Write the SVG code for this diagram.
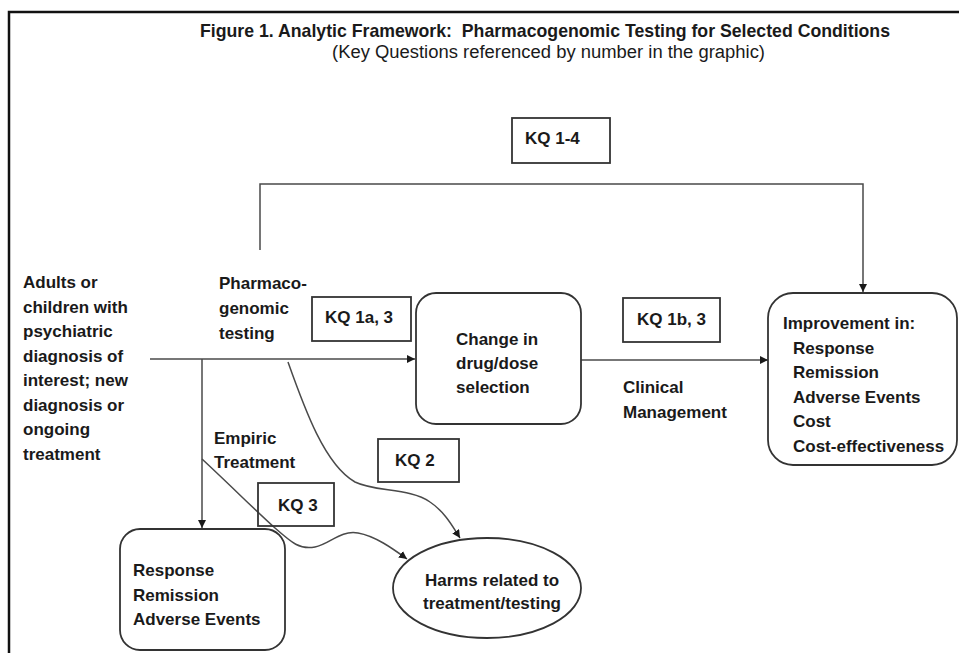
<svg xmlns="http://www.w3.org/2000/svg" width="959" height="653" viewBox="0 0 959 653">
<defs>
<style>
text{font-family:"Liberation Sans",Arial,sans-serif;font-size:17px;font-weight:bold;fill:#1a1a1a;white-space:pre}
.title{font-size:18.5px}
.sub{font-weight:normal;font-size:18px}
.box{fill:#fff;stroke:#333;stroke-width:1.8}
.kq{fill:none;stroke:#333;stroke-width:1.8}
.conn{fill:none;stroke:#4a4a4a;stroke-width:1.5}
</style>
<marker id="arr" viewBox="0 0 10 10" refX="10" refY="5" markerWidth="8" markerHeight="8" markerUnits="userSpaceOnUse" orient="auto">
<path d="M0,0 L10,5 L0,10 z" fill="#1a1a1a"/>
</marker>
</defs>
<rect width="959" height="653" fill="#fff"/>
<rect x="9" y="12" width="1000" height="700" fill="none" stroke="#111" stroke-width="2.5"/>
<g id="title">
<text class="title" x="545" y="37" text-anchor="middle" textLength="690" lengthAdjust="spacingAndGlyphs">Figure 1. Analytic Framework:  Pharmacogenomic Testing for Selected Conditions</text>
<text class="sub" x="548.5" y="58" text-anchor="middle" textLength="433" lengthAdjust="spacingAndGlyphs">(Key Questions referenced by number in the graphic)</text>
</g>
<g id="connectors">
<path class="conn" d="M260,250 V184 H863 V292" marker-end="url(#arr)"/>
<path class="conn" d="M150,359 H415" marker-end="url(#arr)"/>
<path class="conn" d="M202,359 V528" marker-end="url(#arr)"/>
<path class="conn" d="M581,360 H768" marker-end="url(#arr)"/>
<path class="conn" d="M288,362 C305,410 325,465 355,482 C375,492 410,488 430,502 C445,512 453,527 460,538" marker-end="url(#arr)"/>
<path class="conn" d="M202,459 C230,485 255,510 275,528 C292,543 300,550 315,547 C330,544 340,530 358,533 C375,536 392,548 407,559" marker-end="url(#arr)"/>
</g>
<g id="population">
<text x="23" y="288">Adults or</text>
<text x="23" y="312.5">children with</text>
<text x="23" y="337">psychiatric</text>
<text x="23" y="361.5">diagnosis of</text>
<text x="23" y="386">interest; new</text>
<text x="23" y="410.5">diagnosis or</text>
<text x="23" y="435">ongoing</text>
<text x="23" y="459.5">treatment</text>
</g>
<g id="pgx-label">
<text x="219" y="289">Pharmaco-</text>
<text x="219" y="314">genomic</text>
<text x="219" y="339">testing</text>
</g>
<g id="empiric-label">
<text x="214" y="444">Empiric</text>
<text x="214" y="468">Treatment</text>
</g>
<g id="clinical-label">
<text x="623" y="393">Clinical</text>
<text x="623" y="418">Management</text>
</g>
<g id="kq14">
<rect class="kq" x="512" y="118" width="98" height="45"/>
<text x="525" y="144">KQ 1-4</text>
</g>
<g id="kq1a">
<rect class="kq" x="312" y="297" width="99" height="44"/>
<text x="325" y="323">KQ 1a, 3</text>
</g>
<g id="kq1b">
<rect class="kq" x="623" y="298" width="97" height="44"/>
<text x="637" y="325">KQ 1b, 3</text>
</g>
<g id="kq2">
<rect class="kq" x="378" y="439" width="81" height="43"/>
<text x="395" y="466">KQ 2</text>
</g>
<g id="kq3">
<rect class="kq" x="258" y="483" width="76" height="43"/>
<text x="278" y="511">KQ 3</text>
</g>
<g id="change">
<rect class="box" x="416" y="293" width="165" height="131" rx="20"/>
<text x="456" y="345">Change in</text>
<text x="456" y="369">drug/dose</text>
<text x="456" y="393">selection</text>
</g>
<g id="improvement">
<rect class="box" x="768" y="293" width="189" height="172" rx="25"/>
<text x="783" y="329">Improvement in:</text>
<text x="793" y="353.5">Response</text>
<text x="793" y="378">Remission</text>
<text x="793" y="402.5">Adverse Events</text>
<text x="793" y="427">Cost</text>
<text x="793" y="451.5">Cost-effectiveness</text>
</g>
<g id="response">
<rect class="box" x="120" y="529" width="165" height="121" rx="20"/>
<text x="133" y="576">Response</text>
<text x="133" y="600.5">Remission</text>
<text x="133" y="625">Adverse Events</text>
</g>
<g id="harms">
<ellipse class="box" cx="487" cy="588" rx="94" ry="50"/>
<text x="492" y="586" text-anchor="middle">Harms related to</text>
<text x="492" y="609" text-anchor="middle">treatment/testing</text>
</g>
</svg>
